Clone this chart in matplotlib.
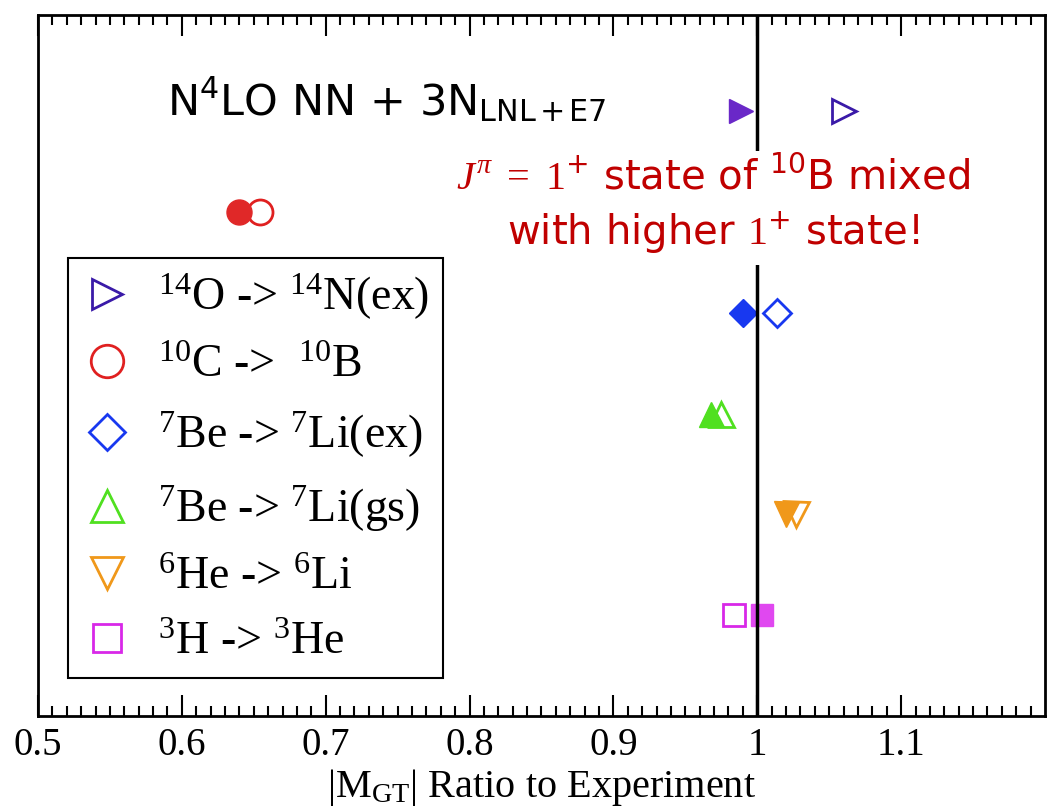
import numpy as np
import matplotlib.pyplot as plt

plt.rcParams['font.family'] = ['Liberation Serif', 'DejaVu Serif']
plt.rcParams['mathtext.fontset'] = 'custom'
plt.rcParams['mathtext.rm'] = 'Liberation Serif'
plt.rcParams['mathtext.it'] = 'Liberation Serif:italic'
plt.rcParams['mathtext.sf'] = 'DejaVu Sans'
plt.rcParams['mathtext.default'] = 'regular'

# transitions, top to bottom
labels = ['$^{14}$O -> $^{14}$N(ex)', '$^{10}$C ->  $^{10}$B',
          '$^{7}$Be -> $^{7}$Li(ex)', '$^{7}$Be -> $^{7}$Li(gs)',
          '$^{6}$He -> $^{6}$Li', '$^{3}$H -> $^{3}$He']
rows = [6, 5, 4, 3, 2, 1]
# ratio |M_GT| theory / experiment
ratio_filled = [0.989, 0.640, 0.990, 0.968, 1.020, 1.003]
ratio_open = [1.060, 0.654, 1.014, 0.975, 1.027, 0.984]

markers = ['>', 'o', 'D', '^', 'v', 's']
sizes = [17, 18, 14, 18, 18, 16]
fill_colors = ['#6a28c8', '#e02828', '#1838f0', '#50e020', '#f0981a', '#e048f0']
edge_colors = ['#3a1aa8', '#e02020', '#1838f0', '#50e020', '#f0981a', '#d828e8']

fig, ax = plt.subplots(figsize=(10.55, 8.09), dpi=100)
fig.subplots_adjust(left=0.036, right=0.9905, top=0.981, bottom=0.115)

for i in range(len(labels)):
    ax.plot(ratio_open[i], rows[i], marker=markers[i], ms=sizes[i], mfc='white',
            mec=edge_colors[i], mew=2, ls='none', label=labels[i], zorder=2)
    ax.plot(ratio_filled[i], rows[i], marker=markers[i], ms=sizes[i], mfc=fill_colors[i],
            mec=fill_colors[i], mew=1, ls='none', zorder=2.5)

ax.axvline(1.0, color='black', lw=2.5, zorder=3)

ax.text(0.590, 6.11, 'N$^{4}$LO NN + 3N$_{LNL+E7}$', family='DejaVu Sans',
        fontsize=31, ha='left', va='center', zorder=4)
ax.text(0.969, 5.05,
        r'$\mathit{J}^{\mathit{\pi}}\ \mathrm{=}\ \mathrm{1}^{+}$ state of $^{10}$B mixed'
        '\n' r'with higher $\mathrm{1}^{+}$ state!',
        family='DejaVu Sans', fontsize=29, color='#c00000', ha='center', va='center',
        linespacing=1.3, zorder=4,
        bbox=dict(facecolor='white', edgecolor='none', pad=6))

ax.set_xlim(0.5, 1.2)
ax.set_ylim(0, 6.95)
ax.set_xticks(np.arange(0.5, 1.15, 0.1))
ax.set_xticklabels(['0.5', '0.6', '0.7', '0.8', '0.9', '1', '1.1'])
ax.set_xticks(np.arange(0.5, 1.2, 0.01), minor=True)
ax.set_yticks([])
ax.tick_params(axis='x', which='both', direction='in', top=True, labelsize=28, width=1.5)
ax.tick_params(axis='x', which='major', length=15, pad=8)
ax.tick_params(axis='x', which='minor', length=7)
for s in ax.spines.values():
    s.set_linewidth(2)

ax.set_xlabel('|M$_{GT}$| Ratio to Experiment', fontsize=29, labelpad=2)

leg = ax.legend(loc='lower left', bbox_to_anchor=(0.03, 0.054), borderaxespad=0,
                fontsize=33, fancybox=False, edgecolor='black', framealpha=1,
                handletextpad=0.55, labelspacing=0.5, borderpad=0.3,
                handlelength=1.1, markerscale=1.3)
leg.get_frame().set_linewidth(1.5)

fig.savefig('out.png', dpi=100)
